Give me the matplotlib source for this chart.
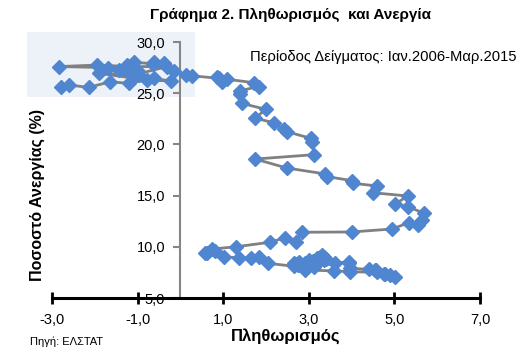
import matplotlib
matplotlib.use("Agg")
import matplotlib.pyplot as plt
from matplotlib.patches import Rectangle
from matplotlib.ticker import FuncFormatter

plt.rcParams['font.family'] = ['Liberation Sans', 'DejaVu Sans']

# πληθωρισμός (%) και ανεργία (%), Ιαν.2006 - Μαρ.2015
infl = [3.27, 3.20, 3.31, 3.35, 3.30, 3.40, 3.35, 3.25, 3.00, 3.10, 3.20, 3.15,
        2.95, 2.90, 2.76, 2.65, 2.70, 2.75, 2.80, 2.92, 3.11, 3.62, 3.93, 3.95,
        3.97, 4.40, 4.54, 4.56, 4.79, 5.02, 4.90, 4.75, 4.60, 3.97, 3.60, 2.92,
        2.65, 2.04, 1.83, 1.65, 1.36, 1.01, 0.82, 0.58, 0.62, 0.74, 1.29, 2.09,
        2.45, 2.69, 2.84, 4.01, 4.95, 5.33, 5.54, 5.65, 5.70, 5.31, 5.02, 5.31,
        4.50, 4.60, 4.03, 4.01, 3.43, 3.39, 2.48, 1.75, 3.13, 3.08, 3.04, 2.49,
        2.41, 2.18, 1.75, 1.99, 1.44, 1.39, 1.39, 1.83, 1.71, 1.09, 0.97, 0.86,
        0.90, 0.27, 0.12, -0.16, -0.39, -0.62, -0.64, -1.09, -1.25, -0.97, -1.01, -1.21,
        -1.43, -1.69, -2.84, -1.95, -1.17, -0.31, -1.09, -1.91, -0.78, -0.23, -0.62, -1.21,
        -1.64, -2.14, -2.61, -2.80]
unemp = [9.03, 8.95, 9.20, 9.05, 8.90, 8.80, 8.75, 8.85, 8.71, 8.60, 8.55, 8.50,
         8.45, 8.40, 8.55, 8.39, 8.30, 8.25, 8.20, 8.10, 8.05, 8.39, 8.55, 8.45,
         7.90, 7.80, 7.73, 7.70, 7.30, 7.08, 7.20, 7.35, 7.50, 7.57, 7.65, 7.73,
         8.10, 8.39, 9.03, 8.93, 8.93, 9.03, 9.59, 9.36, 9.42, 9.78, 10.00, 10.44,
         10.90, 10.44, 11.42, 11.45, 11.74, 12.35, 12.13, 12.62, 13.27, 13.92, 14.18, 14.96,
         15.28, 15.94, 16.20, 16.46, 16.85, 17.11, 17.70, 18.57, 19.00, 20.26, 20.60, 21.24,
         21.47, 22.12, 22.55, 23.43, 24.00, 24.90, 25.25, 25.64, 26.03, 26.36, 26.12, 26.55,
         26.45, 26.70, 26.78, 27.17, 27.92, 28.08, 27.90, 28.00, 27.75, 26.78, 27.27, 27.10,
         27.27, 27.50, 27.60, 27.75, 27.60, 27.60, 26.78, 26.94, 26.29, 26.19, 26.45, 25.96,
         26.12, 25.57, 25.80, 25.64]

xticks = [-3, -1, 1, 3, 5, 7]
yticks = [5, 10, 15, 20, 25, 30]

fig = plt.figure(figsize=(5.29, 3.5), dpi=100)
ax = fig.add_axes([52/529, 1 - 298/350, 428/529, 256/350])
ax.set_facecolor('none')

# σκιασμένο πλαίσιο πάνω αριστερά
ax.add_patch(Rectangle((27/529, 1 - 97/350), 168/529, 65/350, transform=fig.transFigure,
                       facecolor='#EDF2F8', edgecolor='none', clip_on=False, zorder=0))

ax.plot(infl, unemp, color='#808080', lw=2, marker='D', ms=7.2,
        mfc='#4F86CF', mec='#4F86CF', zorder=3, clip_on=False)

ax.set_xlim(-3, 7)
ax.set_ylim(5, 30)
ax.set_xticks(xticks)
ax.set_yticks(yticks)
fmt = FuncFormatter(lambda v, p: ('%.1f' % v).replace('.', ','))
ax.xaxis.set_major_formatter(fmt)
ax.yaxis.set_major_formatter(fmt)

ax.spines['top'].set_visible(False)
ax.spines['right'].set_visible(False)
ax.spines['left'].set_position(('data', 0))
ax.spines['left'].set_color('#868686')
ax.spines['left'].set_linewidth(1.5)
ax.spines['bottom'].set_position(('data', 5))
ax.spines['bottom'].set_color('black')
ax.spines['bottom'].set_linewidth(2.2)

ax.tick_params(axis='x', direction='inout', length=8, width=2, color='black',
               labelsize=10.5, pad=7)
ax.tick_params(axis='y', direction='out', length=5, width=1.5, color='#868686',
               labelsize=10.5, pad=6)

fig.text(286/529, 1 - 336/350, 'Πληθωρισμός', fontsize=12, fontweight='bold',
         ha='center', va='center')
fig.text(37/529, 1 - 195/350, 'Ποσοστό Ανεργίας (%)', rotation=90, fontsize=11.5,
         fontweight='bold', ha='center', va='center')

fig.text(291/529, 1 - 15/350, 'Γράφημα 2. Πληθωρισμός  και Ανεργία', fontsize=11,
         fontweight='bold', ha='center', va='center')
fig.text(250/529, 1 - 57/350, 'Περίοδος Δείγματος: Ιαν.2006-Μαρ.2015', fontsize=10.6,
         ha='left', va='center')
fig.text(30/529, 1 - 342/350, 'Πηγή: ΕΛΣΤΑΤ', fontsize=8, ha='left', va='center')

fig.savefig('out.png', dpi=100)
